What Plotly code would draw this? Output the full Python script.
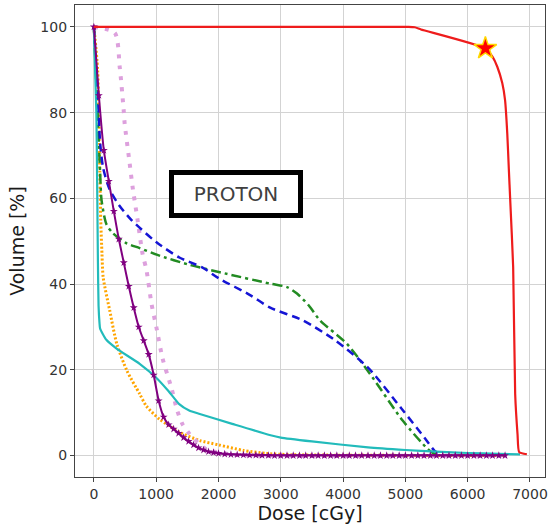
import plotly.graph_objects as go

# ---- data ----
red_dose = [0, 5050, 5150, 5250, 6284, 6400, 6475, 6555, 6600, 6635, 6660, 6683, 6730, 6762, 6800, 6826, 6950]
red_vol = [100, 100, 99.9, 99.4, 95, 93, 90.7, 86.9, 82.9, 75.2, 67, 59.5, 44, 14.4, 5, 0.8, 0.3]

cyan_dose = [0, 40, 55, 65, 75, 90, 100, 200, 370, 735, 1005, 1200, 1370, 1530, 1700, 2220, 2820, 3000, 3500, 4400, 5000, 5500, 6000, 6500, 6840]
cyan_vol = [100, 80, 60, 45, 35, 31, 29.6, 27, 24.9, 21.4, 18.1, 15, 12, 10.5, 9.7, 7.4, 4.8, 4.2, 3.3, 1.9, 1.3, 0.9, 0.6, 0.4, 0.3]

purple_dose = [0, 80, 160, 240, 320, 400, 480, 560, 640, 720, 800, 880, 960, 1040, 1120, 1200,
               1280, 1360, 1440, 1520, 1600, 1680, 1760, 1840, 1920, 2000, 2100, 2200, 2300, 2400,
               2500, 2600, 2700, 2800, 2900, 3000, 3100, 3200, 3300, 3400, 3500, 3600, 3700, 3800,
               3900, 4000, 4100, 4200, 4300, 4400, 4500, 4600, 4700, 4800, 4900, 5000, 5100, 5200,
               5300, 5400, 5500, 5600, 5700, 5800, 5900, 6000, 6100, 6200, 6300, 6400, 6500, 6600]
purple_vol = [100, 84, 71.2, 64, 57, 50.5, 45, 39.5, 34.5, 30, 26.8, 23.6, 18.8, 12.8, 9, 7.2,
              6.2, 5.2, 4.2, 3.3, 2.5, 1.8, 1.3, 0.9, 0.7, 0.5, 0.35, 0.25, 0.2, 0.15,
              0.1, 0.1, 0.05, 0.05, 0, 0, 0, 0, 0, 0, 0, 0, 0, 0,
              0, 0, 0, 0, 0, 0, 0, 0, 0, 0, 0, 0, 0, 0,
              0, 0, 0, 0, 0, 0, 0, 0, 0, 0, 0, 0, 0, 0]

orchid_dose = [0, 335, 415, 478, 494, 574, 622, 702, 781, 845, 925, 1005, 1100, 1244, 1340, 1420, 1531, 1800, 2200, 2600, 6600]
orchid_vol = [100, 98.6, 90.6, 80.6, 77.5, 68.2, 62.6, 54.9, 47.1, 43.2, 35.4, 29.8, 22.8, 15.8, 10.4, 7.4, 5.1, 1.5, 0.3, 0, 0]

blue_dose = [0, 60, 100, 150, 255, 400, 600, 1000, 1372, 1738, 2010, 2500, 2830, 3360, 3880, 4400, 4930, 5310, 5470, 5550]
blue_vol = [100, 85, 73, 67, 62, 58.5, 55, 49.8, 46.2, 43.9, 41.3, 37.5, 34.5, 31.5, 26.8, 20.5, 11.1, 4.1, 1.1, 0.5]

green_dose = [0, 60, 100, 123, 200, 303, 526, 734, 1020, 1531, 2100, 2830, 3100, 3260, 3450, 3630, 4060, 4430, 4960, 5340, 5440, 5500]
green_vol = [100, 80, 66, 59.6, 54, 51.9, 49.5, 48.4, 46.8, 44.5, 42.5, 40.1, 39.3, 37.8, 35, 31.5, 26.1, 19.1, 8.1, 1.8, 0.6, 0.2]

orange_dose = [0, 60, 90, 110, 130, 150, 255, 367, 530, 734, 845, 1053, 1370, 1700, 2000, 2400, 2760, 3200, 6600]
orange_vol = [100, 90, 70, 55, 47, 41.5, 33.8, 26.1, 19.8, 14.4, 11.5, 8.5, 5.5, 3.5, 2.5, 1.2, 0.5, 0.2, 0]

star_dose = [6284]
star_vol = [95]

x_ticks = [0, 1000, 2000, 3000, 4000, 5000, 6000, 7000]
y_ticks = [0, 20, 40, 60, 80, 100]
label_text = "PROTON"

SM = 0.7
fig = go.Figure()

fig.add_trace(go.Scatter(x=orange_dose, y=orange_vol, mode="lines",
                         line=dict(color="#FFA500", width=3, dash="2px,2px", shape="spline", smoothing=SM)))
fig.add_trace(go.Scatter(x=orchid_dose, y=orchid_vol, mode="lines",
                         line=dict(color="#DDA0DD", width=4, dash="4px,7px", shape="spline", smoothing=SM)))
fig.add_trace(go.Scatter(x=green_dose, y=green_vol, mode="lines",
                         line=dict(color="#228B22", width=2.5, dash="10px,4px,3px,4px", shape="spline", smoothing=SM)))
fig.add_trace(go.Scatter(x=blue_dose, y=blue_vol, mode="lines",
                         line=dict(color="#1515D5", width=2.5, dash="8px,5px", shape="spline", smoothing=SM)))
fig.add_trace(go.Scatter(x=cyan_dose, y=cyan_vol, mode="lines",
                         line=dict(color="#22BBBB", width=2.2, shape="spline", smoothing=0.5)))
fig.add_trace(go.Scatter(x=purple_dose, y=purple_vol, mode="lines+markers",
                         line=dict(color="#800080", width=2, shape="spline", smoothing=0.5),
                         marker=dict(symbol="star", size=6, color="#800080")))
fig.add_trace(go.Scatter(x=red_dose, y=red_vol, mode="lines",
                         line=dict(color="#EE1C1C", width=2.2, shape="spline", smoothing=0.5)))
fig.add_trace(go.Scatter(x=star_dose, y=star_vol, mode="markers",
                         marker=dict(symbol="star", size=17, color="#FF0000",
                                     line=dict(color="#FFD700", width=1.5))))

fig.add_annotation(x=2281, y=61.1, xref="x", yref="y", text=label_text, showarrow=False,
                   font=dict(family="DejaVu Sans", size=20, color="#404040"),
                   bordercolor="#000000", borderwidth=5, borderpad=2,
                   bgcolor="#FFFFFF", width=120, height=34,
                   xanchor="center", yanchor="middle")

axis_common = dict(showgrid=True, gridcolor="#D3D3D3", gridwidth=1,
                   showline=True, mirror=True, linecolor="#444444", linewidth=1.2,
                   ticks="outside", ticklen=4, tickcolor="#444444",
                   tickfont=dict(family="DejaVu Sans", size=14, color="#333333"),
                   zeroline=False)

fig.update_layout(
    width=552, height=528,
    margin=dict(l=75, r=4, t=5, b=51),
    plot_bgcolor="#FFFFFF", paper_bgcolor="#FFFFFF",
    showlegend=False,
    font=dict(family="DejaVu Sans"),
    xaxis=dict(range=[-303, 7241], tickvals=x_ticks,
               title=dict(text="Dose [cGy]", font=dict(size=19, color="#1a1a1a"), standoff=4),
               **axis_common),
    yaxis=dict(range=[-5.0, 105.1], tickvals=y_ticks,
               title=dict(text="Volume [%]", font=dict(size=19, color="#1a1a1a"), standoff=10),
               **axis_common),
)

fig.write_html("out.html")
